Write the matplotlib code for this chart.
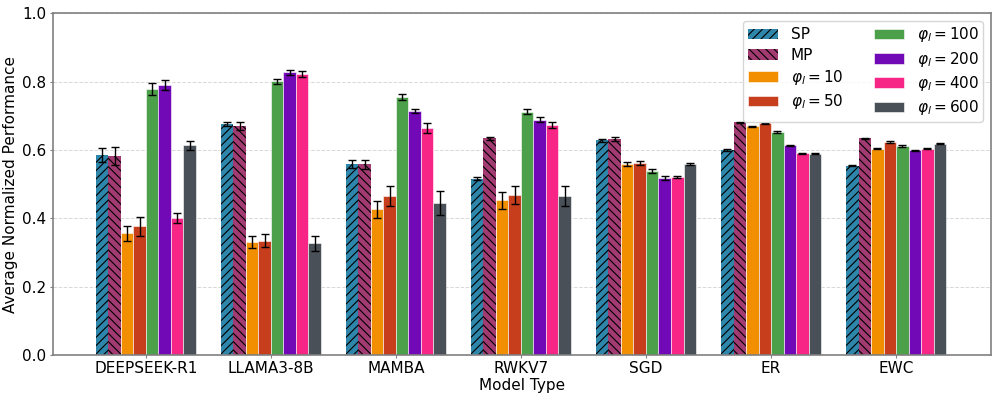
import matplotlib
matplotlib.use("Agg")
import matplotlib.pyplot as plt
import numpy as np

models = ['DEEPSEEK-R1', 'LLAMA3-8B', 'MAMBA', 'RWKV7', 'SGD', 'ER', 'EWC']
labels = ['SP', 'MP', r'$\varphi_l = 10$', r'$\varphi_l = 50$', r'$\varphi_l = 100$',
          r'$\varphi_l = 200$', r'$\varphi_l = 400$', r'$\varphi_l = 600$']

sp     = [0.585, 0.676, 0.558, 0.516, 0.628, 0.600, 0.554]
mp     = [0.583, 0.670, 0.558, 0.634, 0.632, 0.681, 0.634]
phi10  = [0.356, 0.331, 0.427, 0.453, 0.558, 0.669, 0.604]
phi50  = [0.377, 0.335, 0.466, 0.468, 0.563, 0.678, 0.623]
phi100 = [0.778, 0.801, 0.755, 0.712, 0.538, 0.652, 0.612]
phi200 = [0.791, 0.827, 0.714, 0.689, 0.518, 0.613, 0.599]
phi400 = [0.400, 0.822, 0.665, 0.674, 0.521, 0.590, 0.604]
phi600 = [0.613, 0.327, 0.445, 0.465, 0.559, 0.589, 0.618]

sp_err     = [0.020, 0.006, 0.012, 0.004, 0.004, 0.002, 0.002]
mp_err     = [0.027, 0.012, 0.014, 0.004, 0.005, 0.002, 0.002]
phi10_err  = [0.023, 0.018, 0.025, 0.025, 0.006, 0.002, 0.002]
phi50_err  = [0.028, 0.019, 0.029, 0.027, 0.006, 0.002, 0.002]
phi100_err = [0.018, 0.007, 0.010, 0.007, 0.006, 0.002, 0.002]
phi200_err = [0.015, 0.007, 0.007, 0.006, 0.005, 0.002, 0.002]
phi400_err = [0.015, 0.008, 0.014, 0.009, 0.003, 0.002, 0.002]
phi600_err = [0.014, 0.022, 0.034, 0.030, 0.003, 0.002, 0.002]

colors = ['#2E86AB', '#A23B72', '#F18F01', '#C73E1D', '#4CA049', '#7209B7', '#F72585', '#495057']
hatches = ['////', '\\\\\\\\', None, None, None, None, None, None]

series = [sp, mp, phi10, phi50, phi100, phi200, phi400, phi600]
errors = [sp_err, mp_err, phi10_err, phi50_err, phi100_err, phi200_err, phi400_err, phi600_err]

plt.rcParams['hatch.linewidth'] = 0.8
fig, ax = plt.subplots(figsize=(9.97, 3.99), dpi=100)

x = np.arange(len(models))
w = 0.1
for i, (vals, errs) in enumerate(zip(series, errors)):
    pos = x + (i - 3.5) * w
    if hatches[i]:
        ax.bar(pos, vals, w, label=labels[i], color=colors[i], hatch=hatches[i],
               edgecolor='black', linewidth=0)
    else:
        ax.bar(pos, vals, w, label=labels[i], color=colors[i],
               edgecolor='white', linewidth=0.4)
    ax.errorbar(pos, vals, yerr=errs, fmt='none', ecolor='black', capsize=3,
                elinewidth=1, capthick=1)

ax.set_xticks(x)
ax.set_xticklabels(models, fontsize=11)
ax.tick_params(axis='y', labelsize=11)
ax.tick_params(length=2.5, pad=2, color='gray')
ax.set_xlabel('Model Type', fontsize=11, labelpad=1)
ax.set_ylabel('Average Normalized Performance', fontsize=11, labelpad=3)
ax.set_ylim(0, 1.0)
ax.set_xlim(-0.745, 6.76)
ax.grid(axis='y', linestyle='--', alpha=0.3, color='gray', linewidth=0.7)
ax.set_axisbelow(True)
for s in ax.spines.values():
    s.set_color('gray')
    s.set_linewidth(1.2)
ax.legend(ncol=2, fontsize=11, loc='upper right', labelspacing=0.35, borderpad=0.3)

fig.subplots_adjust(left=0.053, right=0.994, top=0.967, bottom=0.11)
fig.savefig('out.png', dpi=100)
